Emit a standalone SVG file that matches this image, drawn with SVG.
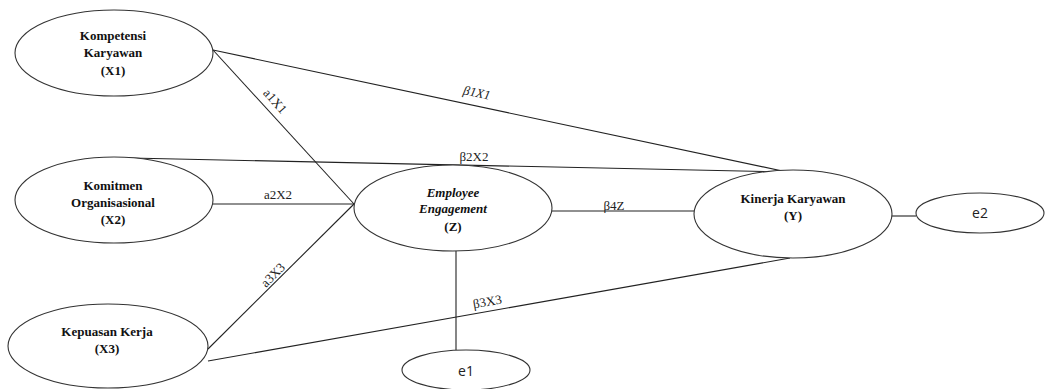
<svg xmlns="http://www.w3.org/2000/svg" width="1045" height="389" viewBox="0 0 1045 389">
<style>
.node{fill:#fff;stroke:#333;stroke-width:1.1}
.edge{stroke:#222;stroke-width:1.1;fill:none}
.nl{font-size:13px;font-weight:bold;text-anchor:middle;fill:#111}
.el{font-size:13px;fill:#222;text-anchor:middle}
.er{font-size:14px;fill:#222;text-anchor:middle}
</style>
<rect width="1045" height="389" fill="#fff"/>
<g id="connectors" font-family="'Liberation Serif', 'Times New Roman', serif">
<line class="edge" x1="213" y1="50" x2="787" y2="172"/>
<line class="edge" x1="130" y1="158" x2="787" y2="172"/>
<line class="edge" x1="213" y1="50" x2="354" y2="204"/>
<line class="edge" x1="213" y1="204" x2="354" y2="204"/>
<line class="edge" x1="208" y1="349" x2="354" y2="204"/>
<line class="edge" x1="208" y1="361" x2="790" y2="258"/>
<line class="edge" x1="552" y1="211" x2="694" y2="211"/>
<line class="edge" x1="456" y1="251" x2="456" y2="350"/>
<line class="edge" x1="892" y1="216" x2="916" y2="216"/>
<text class="el" font-style="italic" transform="translate(476,97) rotate(12)">β1X1</text>
<text class="el" x="474" y="161">β2X2</text>
<text class="el" transform="translate(272,104) rotate(48)">a1X1</text>
<text class="el" x="278" y="199">a2X2</text>
<text class="el" transform="translate(276,278) rotate(-45)">a3X3</text>
<text class="el" transform="translate(488,306) rotate(-10)">β3X3</text>
<text class="el" x="614" y="210">β4Z</text>
</g>
<g id="X1" font-family="'Liberation Serif', 'Times New Roman', serif">
<ellipse class="node" cx="114" cy="53" rx="99" ry="43"/>
<text class="nl" x="113" y="40">Kompetensi</text>
<text class="nl" x="113" y="57">Karyawan</text>
<text class="nl" x="113" y="75">(X1)</text>
</g>
<g id="X2" font-family="'Liberation Serif', 'Times New Roman', serif">
<ellipse class="node" cx="114" cy="200" rx="99" ry="43"/>
<text class="nl" x="113" y="190">Komitmen</text>
<text class="nl" x="113" y="207">Organisasional</text>
<text class="nl" x="113" y="224">(X2)</text>
</g>
<g id="X3" font-family="'Liberation Serif', 'Times New Roman', serif">
<ellipse class="node" cx="108" cy="346" rx="100" ry="42"/>
<text class="nl" x="107" y="336">Kepuasan Kerja</text>
<text class="nl" x="107" y="353">(X3)</text>
</g>
<g id="Z" font-family="'Liberation Serif', 'Times New Roman', serif">
<ellipse class="node" cx="453" cy="208" rx="99" ry="43"/>
<text class="nl" x="453" y="197" font-style="italic">Employee</text>
<text class="nl" x="453" y="213" font-style="italic">Engagement</text>
<text class="nl" x="453" y="231">(Z)</text>
</g>
<g id="Y" font-family="'Liberation Serif', 'Times New Roman', serif">
<ellipse class="node" cx="793" cy="214" rx="99" ry="44"/>
<text class="nl" x="793" y="203">Kinerja Karyawan</text>
<text class="nl" x="793" y="220">(Y)</text>
</g>
<g id="e2" font-family="'Open Sans', 'Liberation Sans', sans-serif">
<ellipse class="node" cx="980" cy="213" rx="64" ry="20"/>
<text class="er" x="980" y="218">e2</text>
</g>
<g id="e1" font-family="'Open Sans', 'Liberation Sans', sans-serif">
<ellipse class="node" cx="466" cy="370" rx="64" ry="20"/>
<text class="er" x="466" y="376">e1</text>
</g>
</svg>
